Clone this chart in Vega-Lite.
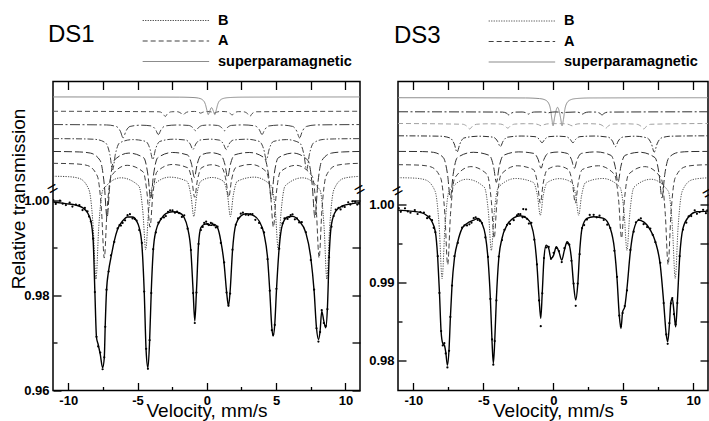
{
"$schema":"https://vega.github.io/schema/vega-lite/v6.json",
"padding":{"left":8,"top":8.5,"right":0,"bottom":0},
"config":{"font":"Liberation Sans","view":{"stroke":"black","strokeWidth":1.5},
"axis":{"labelFont":"Liberation Sans","titleFont":"Liberation Sans","labelColor":"black","titleColor":"black","tickColor":"black","tickWidth":1.3,"domain":false,"grid":false}},
"spacing":-3,
"resolve":{"scale":{"x":"independent","y":"independent","color":"independent","strokeDash":"independent"},"legend":{"color":"independent","strokeDash":"independent"}},
"datasets":{
"sub1":[
{"s":"sp","v":-11.1,"t":1.02175},{"s":"sp","v":-2,"t":1.02171},{"s":"sp","v":-1,"t":1.02163},{"s":"sp","v":-0.6,"t":1.0215},{"s":"sp","v":-0.3,"t":1.02112},{"s":"sp","v":-0.1,"t":1.02015},{"s":"sp","v":0,"t":1.019},{"s":"sp","v":0.1,"t":1.01803},{"s":"sp","v":0.2,"t":1.0187},{"s":"sp","v":0.34,"t":1.01951},{"s":"sp","v":0.48,"t":1.0187},{"s":"sp","v":0.58,"t":1.01803},{"s":"sp","v":0.68,"t":1.019},{"s":"sp","v":0.78,"t":1.02015},{"s":"sp","v":0.98,"t":1.02112},{"s":"sp","v":1.28,"t":1.0215},{"s":"sp","v":1.68,"t":1.02163},{"s":"sp","v":2.7,"t":1.02171},{"s":"sp","v":11.05,"t":1.02175},
{"s":"d1","v":-11.1,"t":1.01874},{"s":"d1","v":-3.45,"t":1.01863},{"s":"d1","v":-3.15,"t":1.01819},{"s":"d1","v":-3.0,"t":1.01764},{"s":"d1","v":-2.85,"t":1.01819},{"s":"d1","v":-2.55,"t":1.01863},{"s":"d1","v":-2.17,"t":1.01866},{"s":"d1","v":-1.87,"t":1.01834},{"s":"d1","v":-1.72,"t":1.01794},{"s":"d1","v":-1.57,"t":1.01834},{"s":"d1","v":-1.27,"t":1.01866},{"s":"d1","v":-0.89,"t":1.0187},{"s":"d1","v":-0.59,"t":1.01854},{"s":"d1","v":-0.44,"t":1.01834},{"s":"d1","v":-0.29,"t":1.01854},{"s":"d1","v":0.05,"t":1.01869},{"s":"d1","v":0.39,"t":1.01854},{"s":"d1","v":0.54,"t":1.01834},{"s":"d1","v":0.69,"t":1.01854},{"s":"d1","v":0.99,"t":1.0187},{"s":"d1","v":1.37,"t":1.01866},{"s":"d1","v":1.67,"t":1.01834},{"s":"d1","v":1.82,"t":1.01794},{"s":"d1","v":1.97,"t":1.01834},{"s":"d1","v":2.27,"t":1.01866},{"s":"d1","v":2.65,"t":1.01863},{"s":"d1","v":2.95,"t":1.01819},{"s":"d1","v":3.1,"t":1.01764},{"s":"d1","v":3.25,"t":1.01819},{"s":"d1","v":3.55,"t":1.01863},{"s":"d1","v":11.05,"t":1.01874},
{"s":"dd1","v":-11.1,"t":1.01594},{"s":"dd1","v":-7.24,"t":1.01586},{"s":"dd1","v":-6.54,"t":1.01555},{"s":"dd1","v":-6.24,"t":1.01454},{"s":"dd1","v":-6.04,"t":1.01314},{"s":"dd1","v":-5.84,"t":1.01454},{"s":"dd1","v":-5.54,"t":1.01555},{"s":"dd1","v":-4.77,"t":1.01581},{"s":"dd1","v":-4.0,"t":1.01565},{"s":"dd1","v":-3.7,"t":1.01489},{"s":"dd1","v":-3.5,"t":1.01384},{"s":"dd1","v":-3.3,"t":1.01489},{"s":"dd1","v":-3.0,"t":1.01565},{"s":"dd1","v":-2.15,"t":1.01585},{"s":"dd1","v":-1.31,"t":1.01576},{"s":"dd1","v":-1.01,"t":1.01529},{"s":"dd1","v":-0.81,"t":1.01464},{"s":"dd1","v":-0.61,"t":1.01529},{"s":"dd1","v":-0.31,"t":1.01576},{"s":"dd1","v":0.23,"t":1.01585},{"s":"dd1","v":0.77,"t":1.01576},{"s":"dd1","v":1.07,"t":1.01529},{"s":"dd1","v":1.27,"t":1.01464},{"s":"dd1","v":1.47,"t":1.01529},{"s":"dd1","v":1.77,"t":1.01576},{"s":"dd1","v":2.62,"t":1.01587},{"s":"dd1","v":3.48,"t":1.01565},{"s":"dd1","v":3.78,"t":1.01489},{"s":"dd1","v":3.98,"t":1.01384},{"s":"dd1","v":4.18,"t":1.01489},{"s":"dd1","v":4.48,"t":1.01565},{"s":"dd1","v":5.33,"t":1.01584},{"s":"dd1","v":6.19,"t":1.01555},{"s":"dd1","v":6.49,"t":1.01454},{"s":"dd1","v":6.69,"t":1.01314},{"s":"dd1","v":6.89,"t":1.01454},{"s":"dd1","v":7.19,"t":1.01555},{"s":"dd1","v":7.89,"t":1.01586},{"s":"dd1","v":11.05,"t":1.01594},
{"s":"dd2","v":-11.1,"t":1.01298},{"s":"dd2","v":-8.8,"t":1.01292},{"s":"dd2","v":-8.0,"t":1.01281},{"s":"dd2","v":-7.3,"t":1.01208},{"s":"dd2","v":-7.0,"t":1.00969},{"s":"dd2","v":-6.8,"t":1.00639},{"s":"dd2","v":-6.6,"t":1.00969},{"s":"dd2","v":-6.3,"t":1.01208},{"s":"dd2","v":-5.35,"t":1.01278},{"s":"dd2","v":-4.4,"t":1.01238},{"s":"dd2","v":-4.1,"t":1.01079},{"s":"dd2","v":-3.9,"t":1.00859},{"s":"dd2","v":-3.7,"t":1.01079},{"s":"dd2","v":-3.4,"t":1.01238},{"s":"dd2","v":-2.45,"t":1.01286},{"s":"dd2","v":-1.5,"t":1.01267},{"s":"dd2","v":-1.2,"t":1.01184},{"s":"dd2","v":-1.0,"t":1.01069},{"s":"dd2","v":-0.8,"t":1.01184},{"s":"dd2","v":-0.5,"t":1.01267},{"s":"dd2","v":0.2,"t":1.01287},{"s":"dd2","v":0.9,"t":1.01267},{"s":"dd2","v":1.2,"t":1.01184},{"s":"dd2","v":1.4,"t":1.01069},{"s":"dd2","v":1.6,"t":1.01184},{"s":"dd2","v":1.9,"t":1.01267},{"s":"dd2","v":2.85,"t":1.01286},{"s":"dd2","v":3.8,"t":1.01238},{"s":"dd2","v":4.1,"t":1.01079},{"s":"dd2","v":4.3,"t":1.00859},{"s":"dd2","v":4.5,"t":1.01079},{"s":"dd2","v":4.8,"t":1.01238},{"s":"dd2","v":5.75,"t":1.01278},{"s":"dd2","v":6.7,"t":1.01208},{"s":"dd2","v":7.0,"t":1.00969},{"s":"dd2","v":7.2,"t":1.00639},{"s":"dd2","v":7.4,"t":1.00969},{"s":"dd2","v":7.7,"t":1.01208},{"s":"dd2","v":8.4,"t":1.01281},{"s":"dd2","v":9.2,"t":1.01292},{"s":"dd2","v":11.05,"t":1.01298},
{"s":"ld","v":-11.1,"t":1.01028},{"s":"ld","v":-9.2,"t":1.01018},{"s":"ld","v":-8.4,"t":1.00994},{"s":"ld","v":-7.7,"t":1.00839},{"s":"ld","v":-7.4,"t":1.00332},{"s":"ld","v":-7.2,"t":0.99632},{"s":"ld","v":-7.0,"t":1.00332},{"s":"ld","v":-6.7,"t":1.00839},{"s":"ld","v":-5.625,"t":1.00994},{"s":"ld","v":-4.55,"t":1.00894},{"s":"ld","v":-4.25,"t":1.00532},{"s":"ld","v":-4.05,"t":1.00032},{"s":"ld","v":-3.85,"t":1.00532},{"s":"ld","v":-3.55,"t":1.00894},{"s":"ld","v":-2.475,"t":1.01007},{"s":"ld","v":-1.4,"t":1.00956},{"s":"ld","v":-1.1,"t":1.00757},{"s":"ld","v":-0.9,"t":1.00482},{"s":"ld","v":-0.7,"t":1.00757},{"s":"ld","v":-0.4,"t":1.00956},{"s":"ld","v":0.3,"t":1.01002},{"s":"ld","v":1.0,"t":1.00956},{"s":"ld","v":1.3,"t":1.00757},{"s":"ld","v":1.5,"t":1.00482},{"s":"ld","v":1.7,"t":1.00757},{"s":"ld","v":2.0,"t":1.00956},{"s":"ld","v":3.075,"t":1.01007},{"s":"ld","v":4.15,"t":1.00894},{"s":"ld","v":4.45,"t":1.00532},{"s":"ld","v":4.65,"t":1.00032},{"s":"ld","v":4.85,"t":1.00532},{"s":"ld","v":5.15,"t":1.00894},{"s":"ld","v":6.225,"t":1.00994},{"s":"ld","v":7.3,"t":1.00839},{"s":"ld","v":7.6,"t":1.00332},{"s":"ld","v":7.8,"t":0.99632},{"s":"ld","v":8.0,"t":1.00332},{"s":"ld","v":8.3,"t":1.00839},{"s":"ld","v":9.0,"t":1.00994},{"s":"ld","v":9.8,"t":1.01018},{"s":"ld","v":11.05,"t":1.01028},
{"s":"A","v":-11.1,"t":1.00779},{"s":"A","v":-9.4,"t":1.00766},{"s":"A","v":-8.6,"t":1.00732},{"s":"A","v":-7.9,"t":1.0051},{"s":"A","v":-7.6,"t":0.99786},{"s":"A","v":-7.4,"t":0.98786},{"s":"A","v":-7.2,"t":0.99786},{"s":"A","v":-6.9,"t":1.0051},{"s":"A","v":-5.75,"t":1.00737},{"s":"A","v":-4.6,"t":1.006},{"s":"A","v":-4.3,"t":1.00111},{"s":"A","v":-4.1,"t":0.99436},{"s":"A","v":-3.9,"t":1.00111},{"s":"A","v":-3.6,"t":1.006},{"s":"A","v":-2.49,"t":1.00755},{"s":"A","v":-1.38,"t":1.00686},{"s":"A","v":-1.08,"t":1.00426},{"s":"A","v":-0.88,"t":1.00066},{"s":"A","v":-0.68,"t":1.00426},{"s":"A","v":-0.38,"t":1.00686},{"s":"A","v":0.35,"t":1.00749},{"s":"A","v":1.08,"t":1.00686},{"s":"A","v":1.38,"t":1.00426},{"s":"A","v":1.58,"t":1.00066},{"s":"A","v":1.78,"t":1.00426},{"s":"A","v":2.08,"t":1.00686},{"s":"A","v":3.19,"t":1.00755},{"s":"A","v":4.3,"t":1.006},{"s":"A","v":4.6,"t":1.00111},{"s":"A","v":4.8,"t":0.99436},{"s":"A","v":5.0,"t":1.00111},{"s":"A","v":5.3,"t":1.006},{"s":"A","v":6.45,"t":1.00737},{"s":"A","v":7.6,"t":1.0051},{"s":"A","v":7.9,"t":0.99786},{"s":"A","v":8.1,"t":0.98786},{"s":"A","v":8.3,"t":0.99786},{"s":"A","v":8.6,"t":1.0051},{"s":"A","v":9.3,"t":1.00732},{"s":"A","v":10.1,"t":1.00766},{"s":"A","v":11.05,"t":1.00779},
{"s":"B","v":-11.1,"t":1.00507},{"s":"B","v":-10.0,"t":1.00498},{"s":"B","v":-9.2,"t":1.00461},{"s":"B","v":-8.5,"t":1.00219},{"s":"B","v":-8.2,"t":0.9943},{"s":"B","v":-8.0,"t":0.9834},{"s":"B","v":-7.8,"t":0.9943},{"s":"B","v":-7.5,"t":1.00219},{"s":"B","v":-6.2,"t":1.00474},{"s":"B","v":-4.91,"t":1.00305},{"s":"B","v":-4.61,"t":0.9974},{"s":"B","v":-4.41,"t":0.9896},{"s":"B","v":-4.21,"t":0.9974},{"s":"B","v":-3.91,"t":1.00305},{"s":"B","v":-2.675,"t":1.00488},{"s":"B","v":-1.44,"t":1.00401},{"s":"B","v":-1.14,"t":1.0009},{"s":"B","v":-0.94,"t":0.9966},{"s":"B","v":-0.74,"t":1.0009},{"s":"B","v":-0.44,"t":1.00401},{"s":"B","v":0.38,"t":1.00481},{"s":"B","v":1.2,"t":1.00401},{"s":"B","v":1.5,"t":1.0009},{"s":"B","v":1.7,"t":0.9966},{"s":"B","v":1.9,"t":1.0009},{"s":"B","v":2.2,"t":1.00401},{"s":"B","v":3.425,"t":1.00488},{"s":"B","v":4.65,"t":1.00305},{"s":"B","v":4.95,"t":0.9974},{"s":"B","v":5.15,"t":0.9896},{"s":"B","v":5.35,"t":0.9974},{"s":"B","v":5.65,"t":1.00305},{"s":"B","v":6.9,"t":1.00474},{"s":"B","v":8.16,"t":1.00219},{"s":"B","v":8.46,"t":0.9943},{"s":"B","v":8.66,"t":0.9834},{"s":"B","v":8.86,"t":0.9943},{"s":"B","v":9.16,"t":1.00219},{"s":"B","v":9.86,"t":1.00461},{"s":"B","v":10.66,"t":1.00498},{"s":"B","v":11.05,"t":1.00505}
],
"fit1":[
{"v":-11.08,"t":0.99965},{"v":-10.17,"t":0.9993},{"v":-9.45,"t":0.999},{"v":-8.97,"t":0.99846},{"v":-8.61,"t":0.9974},{"v":-8.37,"t":0.99565},{"v":-8.2,"t":0.99144},{"v":-8.08,"t":0.9809},{"v":-7.96,"t":0.97109},{"v":-7.84,"t":0.96968},{"v":-7.69,"t":0.96758},{"v":-7.52,"t":0.96477},{"v":-7.4,"t":0.96688},{"v":-7.33,"t":0.9739},{"v":-7.24,"t":0.9809},{"v":-7.09,"t":0.98512},{"v":-6.92,"t":0.98793},{"v":-6.68,"t":0.99144},{"v":-6.44,"t":0.9939},{"v":-6.08,"t":0.99565},{"v":-5.72,"t":0.99649},{"v":-5.36,"t":0.99649},{"v":-5.07,"t":0.99565},{"v":-4.88,"t":0.99425},{"v":-4.69,"t":0.99074},{"v":-4.52,"t":0.9809},{"v":-4.38,"t":0.96828},{"v":-4.25,"t":0.96477},{"v":-4.13,"t":0.97039},{"v":-4.01,"t":0.9809},{"v":-3.87,"t":0.98933},{"v":-3.68,"t":0.99354},{"v":-3.32,"t":0.996},{"v":-2.96,"t":0.99719},{"v":-2.48,"t":0.99761},{"v":-2.0,"t":0.9974},{"v":-1.63,"t":0.99635},{"v":-1.39,"t":0.99425},{"v":-1.15,"t":0.98933},{"v":-0.99,"t":0.9809},{"v":-0.87,"t":0.9746},{"v":-0.75,"t":0.9809},{"v":-0.6,"t":0.99074},{"v":-0.43,"t":0.99425},{"v":-0.19,"t":0.99495},{"v":0.05,"t":0.99509},{"v":0.29,"t":0.99474},{"v":0.53,"t":0.99495},{"v":0.77,"t":0.99425},{"v":1.01,"t":0.99144},{"v":1.25,"t":0.98653},{"v":1.42,"t":0.9809},{"v":1.56,"t":0.97775},{"v":1.68,"t":0.9809},{"v":1.85,"t":0.98933},{"v":2.09,"t":0.99495},{"v":2.45,"t":0.9967},{"v":2.81,"t":0.99719},{"v":3.29,"t":0.99691},{"v":3.77,"t":0.99565},{"v":4.13,"t":0.99284},{"v":4.38,"t":0.98793},{"v":4.54,"t":0.9809},{"v":4.69,"t":0.97319},{"v":4.78,"t":0.97144},{"v":4.9,"t":0.9739},{"v":5.02,"t":0.9809},{"v":5.22,"t":0.99004},{"v":5.46,"t":0.99495},{"v":5.82,"t":0.99649},{"v":6.18,"t":0.99663},{"v":6.66,"t":0.99565},{"v":7.14,"t":0.9932},{"v":7.5,"t":0.98793},{"v":7.74,"t":0.9809},{"v":7.91,"t":0.97319},{"v":8.05,"t":0.97074},{"v":8.17,"t":0.97249},{"v":8.29,"t":0.9767},{"v":8.44,"t":0.9746},{"v":8.58,"t":0.97319},{"v":8.7,"t":0.9774},{"v":8.82,"t":0.98793},{"v":8.99,"t":0.99495},{"v":9.3,"t":0.99775},{"v":9.78,"t":0.99881},{"v":10.5,"t":0.9993},{"v":11.05,"t":0.99953}
],
"pts1":[
{"v":-11.08,"t":1.00005},{"v":-10.17,"t":0.999},{"v":-9.45,"t":0.9991},{"v":-8.97,"t":0.99796},{"v":-8.61,"t":0.9977},{"v":-8.37,"t":0.99555},{"v":-8.2,"t":0.99194},{"v":-8.08,"t":0.9807},{"v":-7.96,"t":0.97129},{"v":-7.84,"t":0.96928},{"v":-7.69,"t":0.96798},{"v":-7.52,"t":0.96447},{"v":-7.4,"t":0.96698},{"v":-7.33,"t":0.9734},{"v":-7.24,"t":0.9812},{"v":-7.09,"t":0.98502},{"v":-6.92,"t":0.98843},{"v":-6.68,"t":0.99124},{"v":-6.44,"t":0.9941},{"v":-6.08,"t":0.99525},{"v":-5.72,"t":0.99689},{"v":-5.36,"t":0.99619},{"v":-5.07,"t":0.99575},{"v":-4.88,"t":0.99375},{"v":-4.69,"t":0.99104},{"v":-4.52,"t":0.9808},{"v":-4.38,"t":0.96878},{"v":-4.25,"t":0.96457},{"v":-4.13,"t":0.97059},{"v":-4.01,"t":0.9805},{"v":-3.87,"t":0.98973},{"v":-3.68,"t":0.99324},{"v":-3.32,"t":0.9961},{"v":-2.96,"t":0.99669},{"v":-2.48,"t":0.99791},{"v":-2.0,"t":0.9973},{"v":-1.63,"t":0.99685},{"v":-1.39,"t":0.99405},{"v":-1.15,"t":0.98953},{"v":-0.99,"t":0.9805},{"v":-0.87,"t":0.9742},{"v":-0.75,"t":0.9806},{"v":-0.6,"t":0.99084},{"v":-0.43,"t":0.99375},{"v":-0.19,"t":0.99525},{"v":0.05,"t":0.99499},{"v":0.29,"t":0.99524},{"v":0.53,"t":0.99475},{"v":0.77,"t":0.99445},{"v":1.01,"t":0.99104},{"v":1.25,"t":0.98693},{"v":1.42,"t":0.9806},{"v":1.56,"t":0.97785},{"v":1.68,"t":0.9804},{"v":1.85,"t":0.98963},{"v":2.09,"t":0.99485},{"v":2.45,"t":0.9972},{"v":2.81,"t":0.99699},{"v":3.29,"t":0.99711},{"v":3.77,"t":0.99525},{"v":4.13,"t":0.99324},{"v":4.38,"t":0.98763},{"v":4.54,"t":0.981},{"v":4.69,"t":0.97269},{"v":4.78,"t":0.97174},{"v":4.9,"t":0.9738},{"v":5.02,"t":0.9814},{"v":5.22,"t":0.98984},{"v":5.46,"t":0.99515},{"v":5.82,"t":0.99609},{"v":6.18,"t":0.99703},{"v":6.66,"t":0.99535},{"v":7.14,"t":0.9933},{"v":7.5,"t":0.98743},{"v":7.74,"t":0.9812},{"v":7.91,"t":0.97309},{"v":8.05,"t":0.9703},{"v":8.17,"t":0.97229},{"v":8.29,"t":0.9769},{"v":8.44,"t":0.9742},{"v":8.58,"t":0.97359},{"v":8.7,"t":0.9771},{"v":8.82,"t":0.98803},{"v":8.99,"t":0.99445},{"v":9.3,"t":0.99805},{"v":9.78,"t":0.99871},{"v":10.5,"t":0.9998},{"v":10.99,"t":0.99931},
{"v":-10.9,"t":0.99925},{"v":-10.6,"t":0.99995},{"v":-10.4,"t":0.9993},{"v":-9.9,"t":0.9995},{"v":-9.7,"t":0.9987},{"v":-9.2,"t":0.999},{"v":-8.8,"t":0.9984},{"v":-8.5,"t":0.9966},{"v":-6.3,"t":0.9948},{"v":-6.2,"t":0.9947},{"v":-5.9,"t":0.9958},{"v":-5.55,"t":0.9971},{"v":-5.2,"t":0.9961},{"v":-3.5,"t":0.9953},{"v":-3.1,"t":0.9964},{"v":-2.8,"t":0.9976},{"v":-2.65,"t":0.9979},{"v":-2.3,"t":0.9974},{"v":-2.15,"t":0.99765},{"v":-1.8,"t":0.9965},{"v":-0.3,"t":0.9944},{"v":-0.05,"t":0.9955},{"v":0.15,"t":0.9948},{"v":0.4,"t":0.9951},{"v":0.65,"t":0.9943},{"v":2.25,"t":0.9962},{"v":2.6,"t":0.9974},{"v":3.0,"t":0.9969},{"v":3.15,"t":0.9971},{"v":3.5,"t":0.9959},{"v":3.95,"t":0.9942},{"v":5.6,"t":0.9962},{"v":5.95,"t":0.9965},{"v":6.05,"t":0.9969},{"v":6.35,"t":0.996},{"v":6.5,"t":0.9962},{"v":6.85,"t":0.9954},{"v":9.15,"t":0.9967},{"v":9.5,"t":0.9984},{"v":9.65,"t":0.9981},{"v":9.95,"t":0.9986},{"v":10.2,"t":0.9996},{"v":10.35,"t":0.9991},{"v":10.7,"t":0.9997},{"v":10.85,"t":0.9991}
],
"brk1":[{"v":-11.1,"t":1.0023},{"v":11.05,"t":1.0021}],
"sub3":[
{"s":"sp","v":-11.1,"t":1.01372},{"s":"sp","v":-2,"t":1.01369},{"s":"sp","v":-1,"t":1.01361},{"s":"sp","v":-0.6,"t":1.01345},{"s":"sp","v":-0.35,"t":1.01305},{"s":"sp","v":-0.2,"t":1.01221},{"s":"sp","v":-0.1,"t":1.01092},{"s":"sp","v":-0.02,"t":1.01012},{"s":"sp","v":0.08,"t":1.01111},{"s":"sp","v":0.3,"t":1.01249},{"s":"sp","v":0.52,"t":1.01111},{"s":"sp","v":0.62,"t":1.01012},{"s":"sp","v":0.72,"t":1.01092},{"s":"sp","v":0.82,"t":1.01221},{"s":"sp","v":0.97,"t":1.01305},{"s":"sp","v":1.22,"t":1.01345},{"s":"sp","v":1.62,"t":1.01361},{"s":"sp","v":2.62,"t":1.01369},{"s":"sp","v":11.05,"t":1.01372},
{"s":"dd1","v":-11.1,"t":1.01192},{"s":"dd1","v":-3.63,"t":1.01188},{"s":"dd1","v":-3.33,"t":1.01172},{"s":"dd1","v":-3.18,"t":1.01152},{"s":"dd1","v":-3.03,"t":1.01172},{"s":"dd1","v":-2.73,"t":1.01188},{"s":"dd1","v":-2.23,"t":1.01189},{"s":"dd1","v":-1.93,"t":1.01177},{"s":"dd1","v":-1.78,"t":1.01162},{"s":"dd1","v":-1.63,"t":1.01177},{"s":"dd1","v":-1.33,"t":1.01189},{"s":"dd1","v":-0.83,"t":1.0119},{"s":"dd1","v":-0.53,"t":1.01184},{"s":"dd1","v":-0.38,"t":1.01177},{"s":"dd1","v":-0.23,"t":1.01184},{"s":"dd1","v":0.15,"t":1.0119},{"s":"dd1","v":0.53,"t":1.01184},{"s":"dd1","v":0.68,"t":1.01177},{"s":"dd1","v":0.83,"t":1.01184},{"s":"dd1","v":1.63,"t":1.01189},{"s":"dd1","v":1.93,"t":1.01177},{"s":"dd1","v":2.08,"t":1.01162},{"s":"dd1","v":2.23,"t":1.01177},{"s":"dd1","v":2.53,"t":1.01189},{"s":"dd1","v":3.03,"t":1.01188},{"s":"dd1","v":3.33,"t":1.01172},{"s":"dd1","v":3.48,"t":1.01152},{"s":"dd1","v":3.63,"t":1.01172},{"s":"dd1","v":3.93,"t":1.01188},{"s":"dd1","v":11.05,"t":1.01192},
{"s":"d1","v":-11.1,"t":1.01042},{"s":"d1","v":-6.48,"t":1.01032},{"s":"d1","v":-6.18,"t":1.01007},{"s":"d1","v":-5.98,"t":1.00972},{"s":"d1","v":-5.78,"t":1.01007},{"s":"d1","v":-5.48,"t":1.01032},{"s":"d1","v":-4.62,"t":1.01038},{"s":"d1","v":-3.76,"t":1.01034},{"s":"d1","v":-3.46,"t":1.01012},{"s":"d1","v":-3.26,"t":1.00982},{"s":"d1","v":-3.06,"t":1.01012},{"s":"d1","v":-2.76,"t":1.01034},{"s":"d1","v":-2.06,"t":1.01039},{"s":"d1","v":-1.36,"t":1.01038},{"s":"d1","v":-1.06,"t":1.01027},{"s":"d1","v":-0.86,"t":1.01012},{"s":"d1","v":-0.66,"t":1.01027},{"s":"d1","v":-0.36,"t":1.01038},{"s":"d1","v":0.24,"t":1.0104},{"s":"d1","v":0.84,"t":1.01038},{"s":"d1","v":1.14,"t":1.01027},{"s":"d1","v":1.34,"t":1.01012},{"s":"d1","v":1.54,"t":1.01027},{"s":"d1","v":1.84,"t":1.01038},{"s":"d1","v":2.54,"t":1.01039},{"s":"d1","v":3.24,"t":1.01034},{"s":"d1","v":3.54,"t":1.01012},{"s":"d1","v":3.74,"t":1.00982},{"s":"d1","v":3.94,"t":1.01012},{"s":"d1","v":4.24,"t":1.01034},{"s":"d1","v":5.1,"t":1.01038},{"s":"d1","v":5.96,"t":1.01032},{"s":"d1","v":6.26,"t":1.01007},{"s":"d1","v":6.46,"t":1.00972},{"s":"d1","v":6.66,"t":1.01007},{"s":"d1","v":6.96,"t":1.01032},{"s":"d1","v":11.05,"t":1.01042},
{"s":"dd2","v":-11.1,"t":1.00884},{"s":"dd2","v":-8.08,"t":1.00879},{"s":"dd2","v":-7.38,"t":1.00856},{"s":"dd2","v":-7.08,"t":1.0078},{"s":"dd2","v":-6.88,"t":1.00675},{"s":"dd2","v":-6.68,"t":1.0078},{"s":"dd2","v":-6.38,"t":1.00856},{"s":"dd2","v":-5.335,"t":1.00879},{"s":"dd2","v":-4.29,"t":1.00866},{"s":"dd2","v":-3.99,"t":1.00815},{"s":"dd2","v":-3.79,"t":1.00745},{"s":"dd2","v":-3.59,"t":1.00815},{"s":"dd2","v":-3.29,"t":1.00866},{"s":"dd2","v":-2.3,"t":1.00881},{"s":"dd2","v":-1.31,"t":1.00873},{"s":"dd2","v":-1.01,"t":1.0084},{"s":"dd2","v":-0.81,"t":1.00795},{"s":"dd2","v":-0.61,"t":1.0084},{"s":"dd2","v":-0.31,"t":1.00873},{"s":"dd2","v":0.3,"t":1.00879},{"s":"dd2","v":0.9,"t":1.00873},{"s":"dd2","v":1.2,"t":1.0084},{"s":"dd2","v":1.4,"t":1.00795},{"s":"dd2","v":1.6,"t":1.0084},{"s":"dd2","v":1.9,"t":1.00873},{"s":"dd2","v":2.915,"t":1.00881},{"s":"dd2","v":3.93,"t":1.00866},{"s":"dd2","v":4.23,"t":1.00815},{"s":"dd2","v":4.43,"t":1.00745},{"s":"dd2","v":4.63,"t":1.00815},{"s":"dd2","v":4.93,"t":1.00866},{"s":"dd2","v":5.82,"t":1.00879},{"s":"dd2","v":6.71,"t":1.00856},{"s":"dd2","v":7.01,"t":1.0078},{"s":"dd2","v":7.21,"t":1.00675},{"s":"dd2","v":7.41,"t":1.0078},{"s":"dd2","v":7.71,"t":1.00856},{"s":"dd2","v":8.41,"t":1.00879},{"s":"dd2","v":11.05,"t":1.00884},
{"s":"ld","v":-11.1,"t":1.00684},{"s":"ld","v":-9.36,"t":1.00682},{"s":"ld","v":-8.56,"t":1.00672},{"s":"ld","v":-7.86,"t":1.00605},{"s":"ld","v":-7.56,"t":1.00388},{"s":"ld","v":-7.36,"t":1.00088},{"s":"ld","v":-7.16,"t":1.00388},{"s":"ld","v":-6.86,"t":1.00605},{"s":"ld","v":-5.715,"t":1.00673},{"s":"ld","v":-4.57,"t":1.00633},{"s":"ld","v":-4.27,"t":1.00488},{"s":"ld","v":-4.07,"t":1.00288},{"s":"ld","v":-3.87,"t":1.00488},{"s":"ld","v":-3.57,"t":1.00633},{"s":"ld","v":-2.475,"t":1.00678},{"s":"ld","v":-1.38,"t":1.00658},{"s":"ld","v":-1.08,"t":1.00578},{"s":"ld","v":-0.88,"t":1.00468},{"s":"ld","v":-0.68,"t":1.00578},{"s":"ld","v":-0.38,"t":1.00658},{"s":"ld","v":0.31,"t":1.00676},{"s":"ld","v":1.0,"t":1.00658},{"s":"ld","v":1.3,"t":1.00578},{"s":"ld","v":1.5,"t":1.00468},{"s":"ld","v":1.7,"t":1.00578},{"s":"ld","v":2.0,"t":1.00658},{"s":"ld","v":3.06,"t":1.00678},{"s":"ld","v":4.12,"t":1.00633},{"s":"ld","v":4.42,"t":1.00488},{"s":"ld","v":4.62,"t":1.00288},{"s":"ld","v":4.82,"t":1.00488},{"s":"ld","v":5.12,"t":1.00633},{"s":"ld","v":6.19,"t":1.00673},{"s":"ld","v":7.26,"t":1.00605},{"s":"ld","v":7.56,"t":1.00388},{"s":"ld","v":7.76,"t":1.00088},{"s":"ld","v":7.96,"t":1.00388},{"s":"ld","v":8.26,"t":1.00605},{"s":"ld","v":8.96,"t":1.00672},{"s":"ld","v":9.76,"t":1.00682},{"s":"ld","v":11.05,"t":1.00684},
{"s":"A","v":-11.1,"t":1.00514},{"s":"A","v":-9.55,"t":1.00508},{"s":"A","v":-8.75,"t":1.00486},{"s":"A","v":-8.05,"t":1.00343},{"s":"A","v":-7.75,"t":0.99876},{"s":"A","v":-7.55,"t":0.99231},{"s":"A","v":-7.35,"t":0.99876},{"s":"A","v":-7.05,"t":1.00343},{"s":"A","v":-5.89,"t":1.00489},{"s":"A","v":-4.73,"t":1.0039},{"s":"A","v":-4.43,"t":1.00046},{"s":"A","v":-4.23,"t":0.99571},{"s":"A","v":-4.03,"t":1.00046},{"s":"A","v":-3.73,"t":1.0039},{"s":"A","v":-2.58,"t":1.005},{"s":"A","v":-1.43,"t":1.00452},{"s":"A","v":-1.13,"t":1.00271},{"s":"A","v":-0.93,"t":1.00021},{"s":"A","v":-0.73,"t":1.00271},{"s":"A","v":-0.43,"t":1.00452},{"s":"A","v":0.32,"t":1.00496},{"s":"A","v":1.07,"t":1.00452},{"s":"A","v":1.37,"t":1.00271},{"s":"A","v":1.57,"t":1.00021},{"s":"A","v":1.77,"t":1.00271},{"s":"A","v":2.07,"t":1.00452},{"s":"A","v":3.22,"t":1.005},{"s":"A","v":4.37,"t":1.0039},{"s":"A","v":4.67,"t":1.00046},{"s":"A","v":4.87,"t":0.99571},{"s":"A","v":5.07,"t":1.00046},{"s":"A","v":5.37,"t":1.0039},{"s":"A","v":6.535,"t":1.00489},{"s":"A","v":7.7,"t":1.00343},{"s":"A","v":8.0,"t":0.99876},{"s":"A","v":8.2,"t":0.99231},{"s":"A","v":8.4,"t":0.99876},{"s":"A","v":8.7,"t":1.00343},{"s":"A","v":9.4,"t":1.00486},{"s":"A","v":10.2,"t":1.00508},{"s":"A","v":11.05,"t":1.00513},
{"s":"B","v":-11.1,"t":1.00347},{"s":"B","v":-9.95,"t":1.00342},{"s":"B","v":-9.15,"t":1.0032},{"s":"B","v":-8.45,"t":1.00175},{"s":"B","v":-8.15,"t":0.99705},{"s":"B","v":-7.95,"t":0.99055},{"s":"B","v":-7.75,"t":0.99705},{"s":"B","v":-7.45,"t":1.00175},{"s":"B","v":-6.19,"t":1.00327},{"s":"B","v":-4.93,"t":1.00225},{"s":"B","v":-4.63,"t":0.99885},{"s":"B","v":-4.43,"t":0.99415},{"s":"B","v":-4.23,"t":0.99885},{"s":"B","v":-3.93,"t":1.00225},{"s":"B","v":-2.68,"t":1.00337},{"s":"B","v":-1.43,"t":1.00287},{"s":"B","v":-1.13,"t":1.0011},{"s":"B","v":-0.93,"t":0.99865},{"s":"B","v":-0.73,"t":1.0011},{"s":"B","v":-0.43,"t":1.00287},{"s":"B","v":0.44,"t":1.00335},{"s":"B","v":1.31,"t":1.00287},{"s":"B","v":1.61,"t":1.0011},{"s":"B","v":1.81,"t":0.99865},{"s":"B","v":2.01,"t":1.0011},{"s":"B","v":2.31,"t":1.00287},{"s":"B","v":3.535,"t":1.00337},{"s":"B","v":4.76,"t":1.00225},{"s":"B","v":5.06,"t":0.99885},{"s":"B","v":5.26,"t":0.99415},{"s":"B","v":5.46,"t":0.99885},{"s":"B","v":5.76,"t":1.00225},{"s":"B","v":6.985,"t":1.00327},{"s":"B","v":8.21,"t":1.00175},{"s":"B","v":8.51,"t":0.99705},{"s":"B","v":8.71,"t":0.99055},{"s":"B","v":8.91,"t":0.99705},{"s":"B","v":9.21,"t":1.00175},{"s":"B","v":9.91,"t":1.0032},{"s":"B","v":10.71,"t":1.00342},{"s":"B","v":11.05,"t":1.00345}
],
"fit3":[
{"v":-11.1,"t":0.99932},{"v":-10.21,"t":0.99919},{"v":-9.5,"t":0.99902},{"v":-9.02,"t":0.99859},{"v":-8.67,"t":0.99782},{"v":-8.43,"t":0.99654},{"v":-8.26,"t":0.99312},{"v":-8.14,"t":0.98885},{"v":-8.02,"t":0.98372},{"v":-7.9,"t":0.98222},{"v":-7.79,"t":0.98201},{"v":-7.69,"t":0.98115},{"v":-7.57,"t":0.97944},{"v":-7.45,"t":0.98158},{"v":-7.36,"t":0.98543},{"v":-7.24,"t":0.9897},{"v":-7.07,"t":0.99312},{"v":-6.83,"t":0.99526},{"v":-6.52,"t":0.99697},{"v":-6.17,"t":0.99761},{"v":-5.69,"t":0.99803},{"v":-5.4,"t":0.99825},{"v":-5.1,"t":0.99761},{"v":-4.86,"t":0.99611},{"v":-4.67,"t":0.99312},{"v":-4.5,"t":0.98799},{"v":-4.38,"t":0.98244},{"v":-4.29,"t":0.97966},{"v":-4.19,"t":0.98244},{"v":-4.07,"t":0.98799},{"v":-3.9,"t":0.99312},{"v":-3.67,"t":0.99568},{"v":-3.31,"t":0.99739},{"v":-2.83,"t":0.99833},{"v":-2.36,"t":0.99859},{"v":-1.88,"t":0.99825},{"v":-1.57,"t":0.99739},{"v":-1.36,"t":0.99568},{"v":-1.17,"t":0.99226},{"v":-1.02,"t":0.98799},{"v":-0.9,"t":0.98543},{"v":-0.79,"t":0.98885},{"v":-0.67,"t":0.99312},{"v":-0.52,"t":0.99483},{"v":-0.33,"t":0.9944},{"v":-0.17,"t":0.99312},{"v":0.02,"t":0.99355},{"v":0.21,"t":0.99462},{"v":0.4,"t":0.99397},{"v":0.6,"t":0.99291},{"v":0.79,"t":0.99419},{"v":0.98,"t":0.99526},{"v":1.14,"t":0.99483},{"v":1.29,"t":0.99312},{"v":1.45,"t":0.9897},{"v":1.6,"t":0.98778},{"v":1.74,"t":0.9897},{"v":1.88,"t":0.99397},{"v":2.05,"t":0.99697},{"v":2.4,"t":0.99825},{"v":2.88,"t":0.99846},{"v":3.6,"t":0.99825},{"v":4.07,"t":0.99697},{"v":4.36,"t":0.9944},{"v":4.55,"t":0.99056},{"v":4.71,"t":0.98585},{"v":4.83,"t":0.98415},{"v":4.95,"t":0.98628},{"v":5.1,"t":0.98692},{"v":5.26,"t":0.98927},{"v":5.5,"t":0.99397},{"v":5.74,"t":0.99675},{"v":6.1,"t":0.99803},{"v":6.45,"t":0.99782},{"v":6.93,"t":0.99675},{"v":7.29,"t":0.99526},{"v":7.64,"t":0.99226},{"v":7.88,"t":0.98756},{"v":8.07,"t":0.98329},{"v":8.17,"t":0.98244},{"v":8.29,"t":0.98457},{"v":8.4,"t":0.98756},{"v":8.5,"t":0.98799},{"v":8.62,"t":0.98628},{"v":8.74,"t":0.98436},{"v":8.86,"t":0.98756},{"v":9.02,"t":0.99312},{"v":9.26,"t":0.99697},{"v":9.67,"t":0.99846},{"v":10.26,"t":0.9991},{"v":11.05,"t":0.99919}
],
"pts3":[
{"v":-11.05,"t":0.99957},{"v":-10.21,"t":0.99899},{"v":-9.5,"t":0.99907},{"v":-9.02,"t":0.99829},{"v":-8.67,"t":0.99802},{"v":-8.43,"t":0.99649},{"v":-8.26,"t":0.99342},{"v":-8.14,"t":0.9887},{"v":-8.02,"t":0.98382},{"v":-7.9,"t":0.98197},{"v":-7.79,"t":0.98226},{"v":-7.69,"t":0.98095},{"v":-7.57,"t":0.97915},{"v":-7.45,"t":0.98128},{"v":-7.36,"t":0.98563},{"v":-7.24,"t":0.98965},{"v":-7.07,"t":0.99342},{"v":-6.83,"t":0.99511},{"v":-6.52,"t":0.99707},{"v":-6.17,"t":0.99736},{"v":-5.69,"t":0.99828},{"v":-5.4,"t":0.99805},{"v":-5.1,"t":0.99766},{"v":-4.86,"t":0.99581},{"v":-4.67,"t":0.99332},{"v":-4.5,"t":0.98794},{"v":-4.38,"t":0.98274},{"v":-4.29,"t":0.97951},{"v":-4.19,"t":0.98254},{"v":-4.07,"t":0.98774},{"v":-3.9,"t":0.99337},{"v":-3.67,"t":0.99548},{"v":-3.31,"t":0.99744},{"v":-2.83,"t":0.99803},{"v":-2.36,"t":0.99879},{"v":-1.88,"t":0.9982},{"v":-1.57,"t":0.99769},{"v":-1.36,"t":0.99553},{"v":-1.17,"t":0.99236},{"v":-1.02,"t":0.98774},{"v":-0.9,"t":0.98445},{"v":-0.79,"t":0.98865},{"v":-0.67,"t":0.99317},{"v":-0.52,"t":0.99453},{"v":-0.33,"t":0.9946},{"v":-0.17,"t":0.99307},{"v":0.02,"t":0.99385},{"v":0.21,"t":0.99447},{"v":0.4,"t":0.99407},{"v":0.6,"t":0.99266},{"v":0.79,"t":0.99444},{"v":0.98,"t":0.99506},{"v":1.14,"t":0.99488},{"v":1.29,"t":0.99282},{"v":1.45,"t":0.9899},{"v":1.6,"t":0.98705},{"v":1.74,"t":0.9899},{"v":1.88,"t":0.99367},{"v":2.05,"t":0.99702},{"v":2.4,"t":0.9981},{"v":2.88,"t":0.99871},{"v":3.6,"t":0.99805},{"v":4.07,"t":0.99702},{"v":4.36,"t":0.9941},{"v":4.55,"t":0.99076},{"v":4.71,"t":0.9858},{"v":4.83,"t":0.98445},{"v":4.95,"t":0.98613},{"v":5.1,"t":0.98702},{"v":5.26,"t":0.98902},{"v":5.5,"t":0.99422},{"v":5.74,"t":0.99655},{"v":6.1,"t":0.99808},{"v":6.45,"t":0.99752},{"v":6.93,"t":0.99695},{"v":7.29,"t":0.99521},{"v":7.64,"t":0.99256},{"v":7.88,"t":0.98741},{"v":8.07,"t":0.98339},{"v":8.17,"t":0.98219},{"v":8.29,"t":0.98482},{"v":8.4,"t":0.98736},{"v":8.5,"t":0.98804},{"v":8.62,"t":0.98598},{"v":8.74,"t":0.98466},{"v":8.86,"t":0.98741},{"v":9.02,"t":0.99342},{"v":9.26,"t":0.99682},{"v":9.67,"t":0.99851},{"v":10.26,"t":0.99885},{"v":11.0,"t":0.99929},
{"v":-10.9,"t":0.9991},{"v":-10.6,"t":0.99955},{"v":-10.4,"t":0.99915},{"v":-9.9,"t":0.99932},{"v":-9.7,"t":0.99882},{"v":-9.25,"t":0.999},{"v":-8.85,"t":0.9985},{"v":-8.55,"t":0.99705},{"v":-6.35,"t":0.99735},{"v":-6.0,"t":0.9975},{"v":-5.85,"t":0.9977},{"v":-5.55,"t":0.9984},{"v":-5.25,"t":0.99795},{"v":-3.5,"t":0.9968},{"v":-3.1,"t":0.99755},{"v":-2.6,"t":0.99865},{"v":-2.5,"t":0.9988},{"v":-2.2,"t":0.9984},{"v":-2.05,"t":0.99845},{"v":-1.75,"t":0.9976},{"v":-2.15,"t":0.99945},{"v":-1.95,"t":0.9994},{"v":2.2,"t":0.9974},{"v":2.6,"t":0.9987},{"v":3.1,"t":0.9984},{"v":3.3,"t":0.9986},{"v":3.85,"t":0.99745},{"v":5.9,"t":0.99775},{"v":6.25,"t":0.99825},{"v":6.7,"t":0.99715},{"v":7.1,"t":0.99615},{"v":9.5,"t":0.9977},{"v":9.85,"t":0.99855},{"v":10.1,"t":0.9993},{"v":10.45,"t":0.99907},{"v":10.7,"t":0.99935},{"v":10.9,"t":0.99893}
],
"brk3":[{"v":-11.1,"t":1.0017},{"v":11.05,"t":1.0014}]
},
"hconcat":[
{
"width":307,"height":309,
"title":{"text":"DS1","anchor":"start","frame":"group","fontSize":24,"fontWeight":"normal","font":"Liberation Sans","color":"black","baseline":"alphabetic","offset":36,"dx":-5,"dy":92},
"resolve":{"axis":{"x":"independent","y":"independent"}},
"layer":[
{"data":{"name":"sub1"},"mark":{"type":"line","interpolate":"monotone","strokeWidth":1,"clip":true},
"encoding":{
"x":{"field":"v","type":"quantitative","scale":{"domain":[-11.1,11.05],"nice":false,"zero":false},
"axis":{"orient":"bottom","values":[-10,-5,0,5,10],"labelExpr":"'' + datum.value","tickSize":-8,"labelPadding":12,"labelFontSize":13,"labelFontWeight":"bold","title":"Velocity, mm/s","titleFontSize":19,"titleFontWeight":"normal","titleY":26,"titleBaseline":"alphabetic"}},
"y":{"field":"t","type":"quantitative","scale":{"domain":[0.96,1.025],"nice":false,"zero":false},
"axis":{"orient":"left","values":[0.96,0.98,1.0],"format":".2f","tickSize":-8,"labelPadding":12,"labelFontSize":13,"labelFontWeight":"bold","title":"Relative transmission","titleFontSize":19,"titleFontWeight":"normal","titleX":-29,"titleY":117,"titleAngle":270,"titleBaseline":"alphabetic","titleAlign":"center"}},
"color":{"field":"s","type":"nominal","scale":{"domain":["B","A","sp","ld","dd2","dd1","d1"],"range":["#404040","#404040","#8c8c8c","#303030","#404040","#404040","#505050"]},
"legend":{"values":["B","A","sp"],"labelExpr":"datum.label === 'sp' ? 'superparamagnetic' : datum.label","orient":"none","legendX":139,"legendY":-71.5,"title":null,"symbolType":"M-6.3,0H0.7","symbolSize":361,"symbolStrokeWidth":1.2,"labelFontSize":14.5,"labelFontWeight":"bold","labelFont":"Liberation Sans","labelColor":"black","labelOffset":5,"rowPadding":3.5}},
"strokeDash":{"field":"s","type":"nominal","scale":{"domain":["B","A","sp","ld","dd2","dd1","d1"],"range":[[1.2,1.3],[5,3],[1,0],[8,3],[6,2,1.5,2],[10,2.5,2,2.5],[5,3]]},
"legend":{"values":["B","A","sp"],"labelExpr":"datum.label === 'sp' ? 'superparamagnetic' : datum.label","orient":"none","legendX":139,"legendY":-71.5,"title":null,"symbolType":"M-6.3,0H0.7","symbolSize":361,"symbolStrokeWidth":1.2,"labelFontSize":14.5,"labelFontWeight":"bold","labelFont":"Liberation Sans","labelColor":"black","labelOffset":5,"rowPadding":3.5}}
}},
{"data":{"name":"fit1"},"mark":{"type":"line","interpolate":"monotone","color":"black","strokeWidth":1.4,"clip":true},
"encoding":{
"x":{"field":"v","type":"quantitative","scale":{"domain":[-11.1,11.05],"nice":false,"zero":false},"axis":{"orient":"top","values":[-10,-7.5,-5,-2.5,0,2.5,5,7.5,10],"labels":false,"tickSize":-8,"title":null}},
"y":{"field":"t","type":"quantitative","scale":{"domain":[0.96,1.025],"nice":false,"zero":false},"axis":{"orient":"right","values":[0.96,0.97,0.98,0.99,1.0],"labels":false,"tickSize":-8,"title":null}}
}},
{"data":{"name":"pts1"},"mark":{"type":"point","filled":true,"size":5,"color":"black","opacity":1,"clip":true},
"encoding":{
"x":{"field":"v","type":"quantitative","scale":{"domain":[-11.1,11.05],"nice":false,"zero":false},"axis":{"orient":"bottom","values":[-7.5,-2.5,2.5,7.5],"labels":false,"tickSize":-4,"title":null}},
"y":{"field":"t","type":"quantitative","scale":{"domain":[0.96,1.025],"nice":false,"zero":false},"axis":{"orient":"left","values":[0.97,0.99],"labels":false,"tickSize":-4,"title":null}}
}},
{"data":{"name":"brk1"},"mark":{"type":"text","text":"=","fontSize":18,"angle":-30,"color":"black"},
"encoding":{
"x":{"field":"v","type":"quantitative","scale":{"domain":[-11.1,11.05],"nice":false,"zero":false},"axis":null},
"y":{"field":"t","type":"quantitative","scale":{"domain":[0.96,1.025],"nice":false,"zero":false},"axis":null}
}}
]
},
{
"width":310,"height":309,
"title":{"text":"DS3","anchor":"start","frame":"group","fontSize":24,"fontWeight":"normal","font":"Liberation Sans","color":"black","baseline":"alphabetic","offset":36,"dx":-4,"dy":92},
"resolve":{"axis":{"x":"independent","y":"independent"}},
"layer":[
{"data":{"name":"sub3"},"mark":{"type":"line","interpolate":"monotone","strokeWidth":1,"clip":true},
"encoding":{
"x":{"field":"v","type":"quantitative","scale":{"domain":[-11.1,11.05],"nice":false,"zero":false},
"axis":{"orient":"bottom","values":[-10,-5,0,5,10],"labelExpr":"'' + datum.value","tickSize":-8,"labelPadding":12,"labelFontSize":13,"labelFontWeight":"bold","title":"Velocity, mm/s","titleFontSize":19,"titleFontWeight":"normal","titleY":26,"titleBaseline":"alphabetic"}},
"y":{"field":"t","type":"quantitative","scale":{"domain":[0.9762,1.0158],"nice":false,"zero":false},
"axis":{"orient":"left","values":[0.98,0.99,1.0],"format":".2f","tickSize":-8,"labelPadding":12,"labelFontSize":13,"labelFontWeight":"bold","title":null}},
"color":{"field":"s","type":"nominal","scale":{"domain":["B","A","sp","ld","dd2","dd1","d1"],"range":["#505050","#404040","#8c8c8c","#303030","#303030","#303030","#a0a0a0"]},
"legend":{"values":["B","A","sp"],"labelExpr":"datum.label === 'sp' ? 'superparamagnetic' : datum.label","orient":"none","legendX":140,"legendY":-71,"title":null,"symbolType":"M-6.3,0H0.7","symbolSize":361,"symbolStrokeWidth":1.2,"labelFontSize":14.5,"labelFontWeight":"bold","labelFont":"Liberation Sans","labelColor":"black","labelOffset":5,"rowPadding":3.5}},
"strokeDash":{"field":"s","type":"nominal","scale":{"domain":["B","A","sp","ld","dd2","dd1","d1"],"range":[[1.2,1.3],[5,3],[1,0],[8,3],[6,2,1.5,2],[10,2.5,2,2.5],[5,3]]},
"legend":{"values":["B","A","sp"],"labelExpr":"datum.label === 'sp' ? 'superparamagnetic' : datum.label","orient":"none","legendX":140,"legendY":-71,"title":null,"symbolType":"M-6.3,0H0.7","symbolSize":361,"symbolStrokeWidth":1.2,"labelFontSize":14.5,"labelFontWeight":"bold","labelFont":"Liberation Sans","labelColor":"black","labelOffset":5,"rowPadding":3.5}}
}},
{"data":{"name":"fit3"},"mark":{"type":"line","interpolate":"monotone","color":"black","strokeWidth":1.4,"clip":true},
"encoding":{
"x":{"field":"v","type":"quantitative","scale":{"domain":[-11.1,11.05],"nice":false,"zero":false},"axis":{"orient":"top","values":[-10,-7.5,-5,-2.5,0,2.5,5,7.5,10],"labels":false,"tickSize":-8,"title":null}},
"y":{"field":"t","type":"quantitative","scale":{"domain":[0.9762,1.0158],"nice":false,"zero":false},"axis":{"orient":"right","values":[0.98,0.985,0.99,0.995,1.0],"labels":false,"tickSize":-8,"title":null}}
}},
{"data":{"name":"pts3"},"mark":{"type":"point","filled":true,"size":5,"color":"black","opacity":1,"clip":true},
"encoding":{
"x":{"field":"v","type":"quantitative","scale":{"domain":[-11.1,11.05],"nice":false,"zero":false},"axis":{"orient":"bottom","values":[-7.5,-2.5,2.5,7.5],"labels":false,"tickSize":-4,"title":null}},
"y":{"field":"t","type":"quantitative","scale":{"domain":[0.9762,1.0158],"nice":false,"zero":false},"axis":{"orient":"left","values":[0.985,0.995],"labels":false,"tickSize":-4,"title":null}}
}},
{"data":{"name":"brk3"},"mark":{"type":"text","text":"=","fontSize":18,"angle":-30,"color":"black"},
"encoding":{
"x":{"field":"v","type":"quantitative","scale":{"domain":[-11.1,11.05],"nice":false,"zero":false},"axis":null},
"y":{"field":"t","type":"quantitative","scale":{"domain":[0.9762,1.0158],"nice":false,"zero":false},"axis":null}
}}
]
}
]
}
